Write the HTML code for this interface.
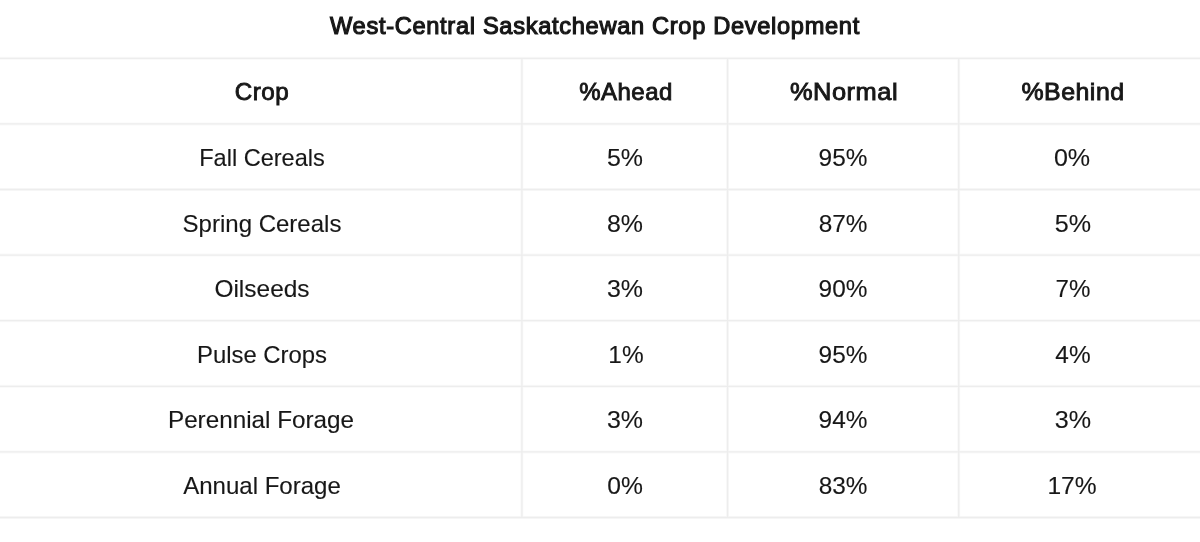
<!DOCTYPE html>
<html lang="en"><head><meta charset="utf-8"><title>West-Central Saskatchewan Crop Development</title>
<style>
html,body{margin:0;padding:0;background:#fff;}
body{width:1200px;height:542px;position:relative;overflow:hidden;font-family:"Liberation Sans",sans-serif;color:#171717;}
.g{position:absolute;left:0;top:0;}
.w{position:absolute;left:0;top:0;width:1200px;height:542px;filter:blur(0.35px);}
.t{position:absolute;white-space:nowrap;line-height:1;transform-origin:50% 50%;font-size:24px;-webkit-text-stroke:0.12px #171717;}
.b{-webkit-text-stroke:0.9px #171717;letter-spacing:0.5px;}
#title{-webkit-text-stroke:1.15px #171717;letter-spacing:0.7px;}
</style></head><body>
<svg class="g" width="1200" height="542" viewBox="0 0 1200 542">
<g stroke="#f9f9f9" stroke-width="3" fill="none">
<line x1="0" y1="58.30" x2="1200" y2="58.30"/>
<line x1="0" y1="123.90" x2="1200" y2="123.90"/>
<line x1="0" y1="189.50" x2="1200" y2="189.50"/>
<line x1="0" y1="255.10" x2="1200" y2="255.10"/>
<line x1="0" y1="320.70" x2="1200" y2="320.70"/>
<line x1="0" y1="386.30" x2="1200" y2="386.30"/>
<line x1="0" y1="451.90" x2="1200" y2="451.90"/>
<line x1="0" y1="517.50" x2="1200" y2="517.50"/>
<line x1="521.90" y1="58.30" x2="521.90" y2="517.50"/>
<line x1="727.60" y1="58.30" x2="727.60" y2="517.50"/>
<line x1="958.75" y1="58.30" x2="958.75" y2="517.50"/>
</g>
<g stroke="#ededed" stroke-width="1.3" fill="none">
<line x1="0" y1="58.30" x2="1200" y2="58.30"/>
<line x1="0" y1="123.90" x2="1200" y2="123.90"/>
<line x1="0" y1="189.50" x2="1200" y2="189.50"/>
<line x1="0" y1="255.10" x2="1200" y2="255.10"/>
<line x1="0" y1="320.70" x2="1200" y2="320.70"/>
<line x1="0" y1="386.30" x2="1200" y2="386.30"/>
<line x1="0" y1="451.90" x2="1200" y2="451.90"/>
<line x1="0" y1="517.50" x2="1200" y2="517.50"/>
<line x1="521.90" y1="58.30" x2="521.90" y2="517.50"/>
<line x1="727.60" y1="58.30" x2="727.60" y2="517.50"/>
<line x1="958.75" y1="58.30" x2="958.75" y2="517.50"/>
</g>
</svg>
<div class="w">
<span class="t b" id="title" style="left:594.85px;top:13.58px;transform:translateX(-50%) scaleX(0.9840)">West-Central Saskatchewan Crop Development</span>
<span class="t b" id="h0" style="left:261.68px;top:79.88px;transform:translateX(-50%) scaleX(1.0066)">Crop</span>
<span class="t b" id="h1" style="left:626.34px;top:79.88px;transform:translateX(-50%) scaleX(0.9998)">%Ahead</span>
<span class="t b" id="h2" style="left:843.62px;top:79.88px;transform:translateX(-50%) scaleX(1.0584)">%Normal</span>
<span class="t b" id="h3" style="left:1073.42px;top:79.88px;transform:translateX(-50%) scaleX(1.0363)">%Behind</span>
<span class="t" id="r0c0" style="left:261.57px;top:145.98px;transform:translateX(-50%) scaleX(0.9813)">Fall Cereals</span>
<span class="t" id="r0c1" style="left:625.26px;top:145.98px;transform:translateX(-50%) scaleX(1.0404)">5%</span>
<span class="t" id="r0c2" style="left:842.80px;top:145.98px;transform:translateX(-50%) scaleX(1.0155)">95%</span>
<span class="t" id="r0c3" style="left:1072.41px;top:145.98px;transform:translateX(-50%) scaleX(1.0450)">0%</span>
<span class="t" id="r1c0" style="left:261.66px;top:211.58px;transform:translateX(-50%) scaleX(1.0004)">Spring Cereals</span>
<span class="t" id="r1c1" style="left:625.37px;top:211.58px;transform:translateX(-50%) scaleX(1.0394)">8%</span>
<span class="t" id="r1c2" style="left:842.79px;top:211.58px;transform:translateX(-50%) scaleX(1.0143)">87%</span>
<span class="t" id="r1c3" style="left:1073.19px;top:211.58px;transform:translateX(-50%) scaleX(1.0457)">5%</span>
<span class="t" id="r2c0" style="left:262.21px;top:277.18px;transform:translateX(-50%) scaleX(1.0195)">Oilseeds</span>
<span class="t" id="r2c1" style="left:625.42px;top:277.18px;transform:translateX(-50%) scaleX(1.0398)">3%</span>
<span class="t" id="r2c2" style="left:842.80px;top:277.18px;transform:translateX(-50%) scaleX(1.0155)">90%</span>
<span class="t" id="r2c3" style="left:1073.47px;top:277.18px;transform:translateX(-50%) scaleX(1.0036)">7%</span>
<span class="t" id="r3c0" style="left:262.45px;top:342.78px;transform:translateX(-50%) scaleX(0.9952)">Pulse Crops</span>
<span class="t" id="r3c1" style="left:625.55px;top:342.78px;transform:translateX(-50%) scaleX(1.0170)">1%</span>
<span class="t" id="r3c2" style="left:842.80px;top:342.78px;transform:translateX(-50%) scaleX(1.0155)">95%</span>
<span class="t" id="r3c3" style="left:1072.61px;top:342.78px;transform:translateX(-50%) scaleX(1.0168)">4%</span>
<span class="t" id="r4c0" style="left:261.48px;top:408.38px;transform:translateX(-50%) scaleX(1.0107)">Perennial Forage</span>
<span class="t" id="r4c1" style="left:625.42px;top:408.38px;transform:translateX(-50%) scaleX(1.0398)">3%</span>
<span class="t" id="r4c2" style="left:842.80px;top:408.38px;transform:translateX(-50%) scaleX(1.0155)">94%</span>
<span class="t" id="r4c3" style="left:1073.17px;top:408.38px;transform:translateX(-50%) scaleX(1.0472)">3%</span>
<span class="t" id="r5c0" style="left:261.50px;top:473.98px;transform:translateX(-50%) scaleX(1.0017)">Annual Forage</span>
<span class="t" id="r5c1" style="left:625.28px;top:473.98px;transform:translateX(-50%) scaleX(1.0278)">0%</span>
<span class="t" id="r5c2" style="left:842.79px;top:473.98px;transform:translateX(-50%) scaleX(1.0143)">83%</span>
<span class="t" id="r5c3" style="left:1072.49px;top:473.98px;transform:translateX(-50%) scaleX(1.0249)">17%</span>
</div>
</body></html>
